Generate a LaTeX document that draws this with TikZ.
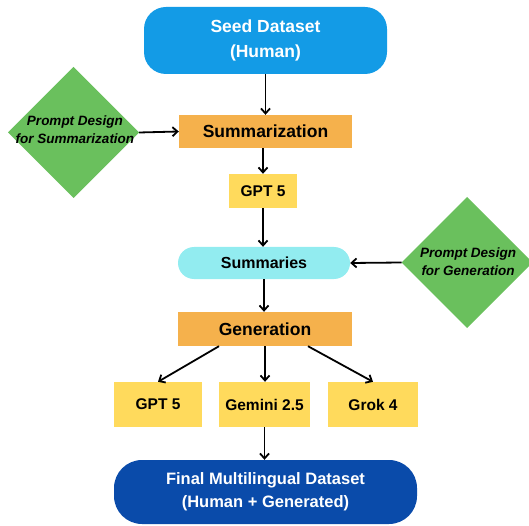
\documentclass[tikz,border=0pt]{standalone}
\usepackage{fontspec}
\setmainfont{Liberation Sans}
\usetikzlibrary{shapes.geometric,arrows.meta}
\definecolor{seedblue}{HTML}{139BE6}
\definecolor{finalblue}{HTML}{0A4BAA}
\definecolor{orangebox}{HTML}{F5B14C}
\definecolor{yellowbox}{HTML}{FFDA5C}
\definecolor{cyanbox}{HTML}{92ECF0}
\definecolor{greendia}{HTML}{6AC05D}
\tikzset{
  base/.style={inner sep=0pt, align=center, font=\bfseries},
  seedbox/.style={base, fill=seedblue, text=white, rounded corners=22pt, minimum width=243pt, minimum height=67pt, font=\fontsize{17.5}{25}\selectfont\bfseries},
  finalbox/.style={base, fill=finalblue, text=white, rounded corners=28pt, minimum width=303pt, minimum height=64pt, font=\fontsize{16.5}{23}\selectfont\bfseries},
  procbox/.style={base, fill=orangebox, minimum width=174pt, minimum height=34pt, font=\fontsize{17.5}{20}\selectfont\bfseries},
  modelbox/.style={base, fill=yellowbox, font=\fontsize{15.5}{18}\selectfont\bfseries},
  sumbox/.style={base, fill=cyanbox, rounded corners=16pt, minimum width=172pt, minimum height=32pt, font=\fontsize{16}{18}\selectfont\bfseries},
  promptdia/.style={inner sep=0pt, outer sep=0pt, diamond, fill=greendia, minimum width=131pt, minimum height=131pt},
  diatext/.style={inner sep=0pt, align=center, font=\fontsize{13.5}{18}\selectfont\bfseries\itshape},
  arr/.style={line width=1.8pt, -{Straight Barb[length=5pt,width=9pt]}}
}
\begin{document}
\begin{tikzpicture}[x=1pt,y=-1pt]
\useasboundingbox (0,0) rectangle (529,526);
\node[seedbox] (seed) at (265.5,40.5) {Seed Dataset\\(Human)};
\node[procbox, minimum height=33pt, minimum width=173pt] (summ) at (265.5,131.5) {Summarization};
\node[modelbox, minimum width=68pt, minimum height=34pt] (gpttop) at (263,191) {GPT 5};
\node[sumbox] (summaries) at (264,263) {Summaries};
\node[procbox] (gen) at (265,329) {Generation};
\node[modelbox, minimum width=88pt, minimum height=45pt] (gptb) at (158,404.5) {GPT 5};
\node[modelbox, minimum width=91pt, minimum height=45pt] (gem) at (264.5,404.5) {Gemini 2.5};
\node[modelbox, minimum width=90pt, minimum height=45pt] (grok) at (373,404.5) {Grok 4};
\node[finalbox] (final) at (265.5,492) {Final Multilingual Dataset\\(Human + Generated)};
\node[promptdia] (dl) at (73.5,132.5) {};
\node[diatext] (dltext) at (75,130) {Prompt Design\\for Summarization};
\node[promptdia] (dr) at (467,262.5) {};
\node[diatext] (drtext) at (468,262) {Prompt Design\\for Generation};

\draw[arr] (seed.south) -- (summ.north);
\draw[arr] (dl.east) -- (summ.west);
\draw[arr] (gpttop.north |- summ.south) -- (gpttop.north);
\draw[arr] (gpttop.south) -- (gpttop.south |- summaries.north);
\draw[arr] (dr.west) -- (summaries.east);
\draw[arr] (summaries.south) -- (summaries.south |- gen.north);
\draw[arr] ([xshift=-46pt]gen.south) -- (gptb.north);
\draw[arr] (gen.south) -- (gen.south |- gem.north);
\draw[arr] ([xshift=43pt]gen.south) -- (grok.north);
\draw[arr] (gem.south) -- (gem.south |- final.north);
\end{tikzpicture}
\end{document}
